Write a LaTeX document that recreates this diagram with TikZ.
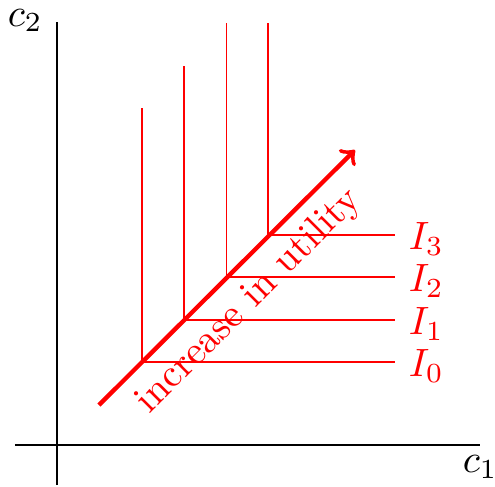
\documentclass[tikz,border=0pt]{standalone}
\begin{document}
\begin{tikzpicture}[x=0.2532pt,y=-0.2532pt,
  axis/.style={black,line width=0.45pt},
  icurve/.style={red,line width=0.45pt},
  ilabel/.style={red,anchor=west,inner sep=0pt},
  alabel/.style={black,anchor=west,inner sep=0pt},
  uarrow/.style={red,line width=1.1pt,->},
  utext/.style={red,rotate=45,anchor=base,inner sep=0pt}]
\useasboundingbox (0,0) rectangle (495,486);
\coordinate (xl) at (15,445);
\coordinate (xr) at (480,445);
\coordinate (yb) at (57,485);
\coordinate (yt) at (57,22);
\draw[axis] (xl) -- (xr);
\draw[axis] (yb) -- (yt);
\node[alabel] (c2) at (7,20.5) {$c_2$};
\node[alabel] (c1) at (462,467) {$c_1$};
% indifference curves
\coordinate (t0) at (141.7,108);  \coordinate (k0) at (141.7,361.7); \coordinate (e0) at (395,361.7);
\coordinate (t1) at (184,66);     \coordinate (k1) at (184,320);     \coordinate (e1) at (395,320);
\coordinate (t2) at (226.5,23);   \coordinate (k2) at (226.5,277.3); \coordinate (e2) at (395,277.3);
\coordinate (t3) at (268.3,23);   \coordinate (k3) at (268.3,235);   \coordinate (e3) at (395,235);
\draw[icurve] (t0) -- (k0) -- (e0);
\draw[icurve] (t1) -- (k1) -- (e1);
\draw[icurve] (t2) -- (k2) -- (e2);
\draw[icurve] (t3) -- (k3) -- (e3);
\node[ilabel] (I0) at (408,365.7) {$I_0$};
\node[ilabel] (I1) at (408,324) {$I_1$};
\node[ilabel] (I2) at (408,281.3) {$I_2$};
\node[ilabel] (I3) at (408,239) {$I_3$};
% arrow
\coordinate (a0) at (99,405);
\coordinate (a1) at (355,150);
\draw[uarrow] (a0) -- (a1);
\node[utext] (txt) at (256,307.7) {increase in utility};
\end{tikzpicture}
\end{document}
